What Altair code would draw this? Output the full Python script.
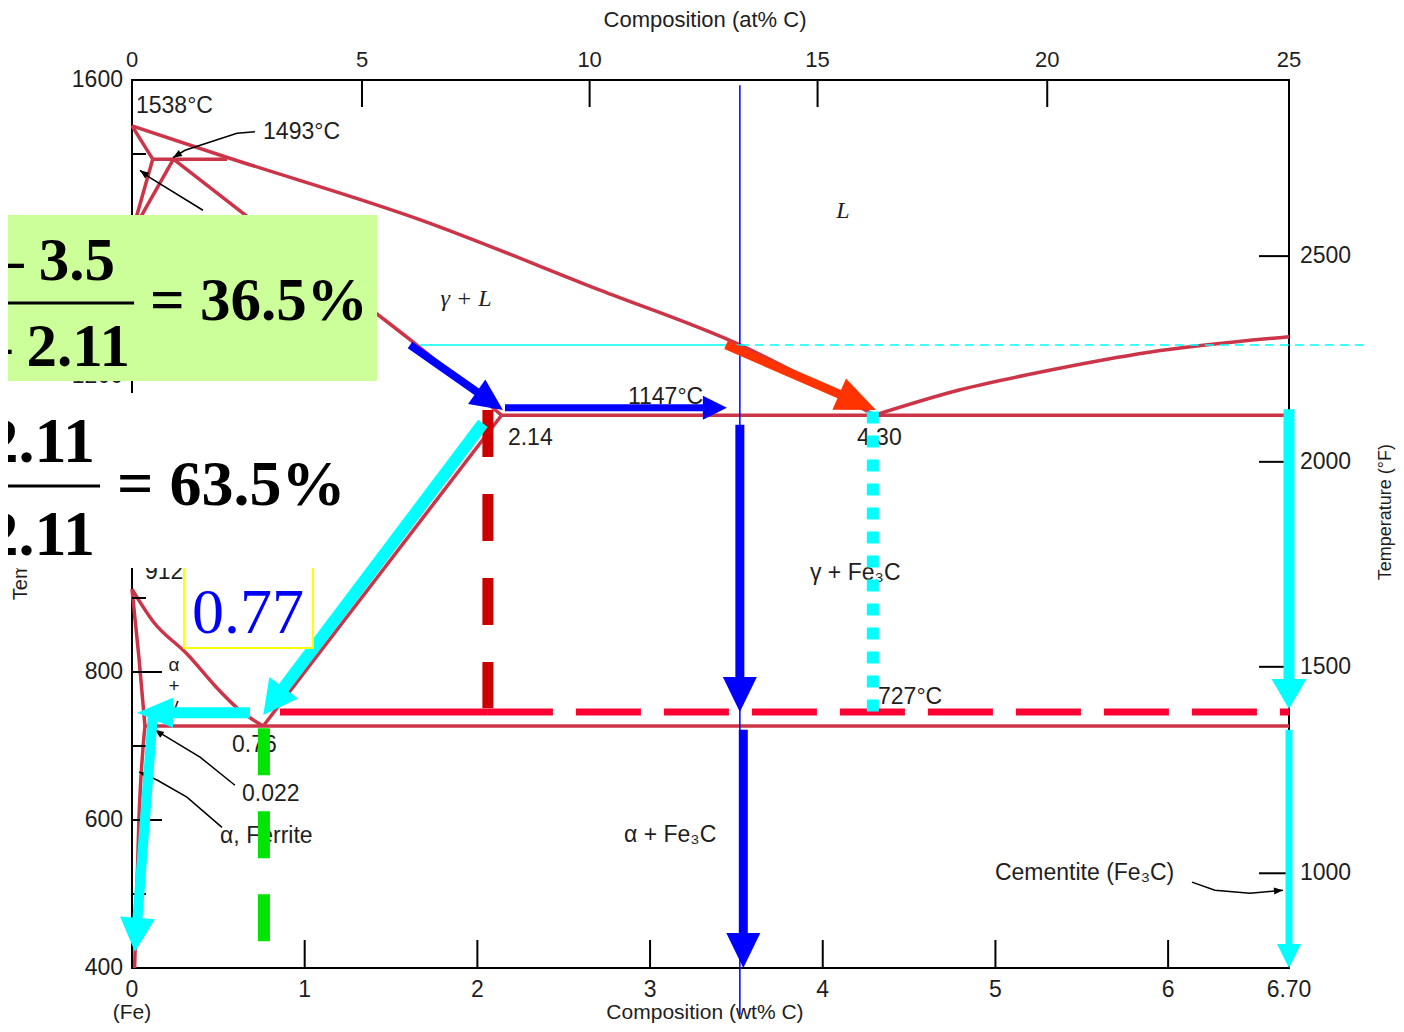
import math
import altair as alt
import pandas as pd

# ---------------- phase boundaries (wt% C, deg C) ----------------
liquidus_wt = [0, 0.53, 1.67, 2.71, 3.52, 4.30]
liquidus_T = [1538, 1497, 1411, 1316, 1242, 1147]
delta_solidus_wt = [0, 0.12]
delta_solidus_T = [1538, 1493]
peritectic_wt = [0.12, 0.55]
peritectic_T = [1493, 1493]
delta_left_wt = [0, 0.12]
delta_left_T = [1394, 1493]
delta_right_wt = [0, 0.24]
delta_right_T = [1394, 1493]
gamma_solidus_wt = [0.24, 0.67, 1.61, 2.14]
gamma_solidus_T = [1493, 1415, 1249, 1147]
eutectic_wt = [2.14, 6.70]
eutectic_T = [1147, 1147]
liquidus_r_wt = [4.30, 4.79, 5.32, 5.89, 6.70]
liquidus_r_T = [1147, 1181, 1208, 1232, 1253]
a3_wt = [0, 0.12, 0.32, 0.51, 0.63, 0.76]
a3_T = [912, 869, 824, 774, 747, 727]
acm_wt = [0.76, 2.14]
acm_T = [727, 1147]
alpha_gamma_wt = [0, 0.04, 0.075]
alpha_gamma_T = [912, 820, 727]
solvus_wt = [0.015, 0.04, 0.075]
solvus_T = [400, 600, 727]
eutectoid_wt = [0.075, 6.70]
eutectoid_T = [727, 727]

# ---------------- axes ----------------
wt_ticks = [0, 1, 2, 3, 4, 5, 6, 6.7]
wt_labels = ["0", "1", "2", "3", "4", "5", "6", "6.70"]
degC_ticks = [400, 600, 800, 1000, 1200, 1400, 1600]
degC_shown = [400, 600, 800, 1200, 1600]          # 1000 and 1400 sit under the boxes
degC_labels = ["400", "600", "800", "1200", "1600"]
degC_minor = [500, 700, 900, 1100, 1300, 1500]
at_labels = ["0", "5", "10", "15", "20", "25"]
at_pos_wt = [0, 1.332, 2.65, 3.97, 5.30, 6.70]
degF_labels = ["1000", "1500", "2000", "2500"]
degF_pos_T = [528, 807, 1084, 1362]

# ---------------- diagram labels ----------------
lab_text = ["1538°C", "1493°C", "1147°C", "2.14", "4.30", "727°C", "0.76", "0.022",
            "α, Ferrite", "912°C", "γ + Fe₃C", "α + Fe₃C", "Cementite (Fe₃C)"]
lab_wt = [0.023, 0.759, 2.872, 2.177, 4.198, 4.32, 0.579, 0.637,
          0.51, 0.075, 3.926, 2.849, 4.997]
lab_T = [1565, 1530, 1172, 1116, 1116, 766, 701, 635,
         578, 935, 934, 580, 528]
small_text = ["α", "+", "γ"]
small_wt = [0.243, 0.243, 0.243]
small_T = [809, 781, 755]
ital_text = ["L", "γ + L"]
ital_wt = [4.117, 1.934]
ital_T = [1423, 1304]

# leader lines (polyline ending at arrow tip)
ldr_1493_wt = [0.712, 0.608, 0.307, 0.237]
ldr_1493_T = [1530, 1528, 1505, 1495]
ldr_delta_wt = [0.411, 0.104, 0.046]
ldr_delta_T = [1424, 1468, 1478]
ldr_022_wt = [0.596, 0.394, 0.145, 0.133]
ldr_022_T = [647, 685, 720, 722]
ldr_fer_wt = [0.521, 0.318, 0.145, 0.041]
ldr_fer_T = [590, 631, 654, 665]
ldr_cem_wt = [6.138, 6.271, 6.474, 6.665]
ldr_cem_T = [516, 505, 501, 505]

# ---------------- lesson overlays ----------------
comp_wt = 3.52
comp_T = [1593, 336]
tie_T = 1242
tie_solid_wt = [1.668, 3.52]
tie_dash_wt = [3.52, 7.14]
darkred_wt = 2.061
darkred_T = [1154, 751]
reddash_T = 746
reddash_solid_wt = [0.857, 2.061]
reddash_wt = [2.061, 6.70]
cyandot_wt = 4.29
cyandot_T = [1152, 746]
green_wt = 0.764
green_T = [724, 431]

arrow_start_wt = [1.61, 2.16, 3.44, 3.52, 3.54, 6.70, 6.70, 2.032, 0.683, 0.122]
arrow_start_T = [1242, 1157, 1242, 1134, 722, 1155, 722, 1136, 745, 745]
arrow_tip_wt = [2.148, 3.445, 4.308, 3.52, 3.54, 6.70, 6.70, 0.76, 0.029, 0.017]
arrow_tip_T = [1154, 1157, 1154, 746, 400, 750, 400, 742, 745, 422]

# boxes
green_box_wt = [-0.72, 1.419]
green_box_T = [1417.6, 1193.2]
white_box_wt = [-0.72, 1.33]
white_box_T = [1177, 940.5]
yellow_box_wt = [0.301, 1.048]
yellow_box_T = [951, 832.4]

frac1_text = ["4.30 – 3.5", "4.30 – 2.11"]
frac1_wt = [-0.098, -0.012]
frac1_T = [1330, 1213.5]
frac1_bar_wt = [-0.72, 0.012]
frac1_bar_T = 1298.6
res1_text = "= 36.5%"
res1_wt = 0.104
res1_T = 1276
frac2_text = ["3.5 – 2.11", "4.30 – 2.11"]
frac2_wt = [-0.214, -0.214]
frac2_T = [1084, 958]
frac2_bar_wt = [-0.72, -0.185]
frac2_bar_T = 1051.4
res2_text = "= 63.5%"
res2_wt = -0.087
res2_T = 1025.7
eut_text = "0.77"
eut_wt = 0.347
eut_T = 852.7

# ---------------- styles ----------------
W, H = 1157, 888
KX = W / 6.7
KY = H / 1200.0
SANS = "Liberation Sans"
SERIF = "Liberation Serif"
INK = "#1e1e1e"
PHASE = "#CC3448"
BLUE = "#0000FF"
CYAN = "#00FFFF"
ORANGE = "#FF3300"
DARKRED = "#CC0000"
REDDASH = "#FF0033"
GREEN = "#00E600"

arrow_color = [BLUE, BLUE, ORANGE, BLUE, BLUE, CYAN, CYAN, CYAN, CYAN, CYAN]
arrow_shaft = [8, 7, 9, 9, 9, 11, 7, 12, 11, 10]
arrow_head_len = [32, 24, 40, 35, 35, 30, 24, 34, 36, 34]
arrow_head_wid = [30, 24, 34, 34, 34, 35, 24, 36, 30, 35]

XS = alt.Scale(domain=[0, 6.7], nice=False, zero=False)
YS = alt.Scale(domain=[400, 1600], nice=False, zero=False)


def X(f="x"):
    return alt.X(f"{f}:Q", scale=XS, axis=None)


def Y(f="y"):
    return alt.Y(f"{f}:Q", scale=YS, axis=None)


def head(sw, sT, tw, tT, L, Wd):
    dx = (tw - sw) * KX
    dy = -(tT - sT) * KY
    n = math.hypot(dx, dy)
    ux, uy = dx / n, dy / n
    back = L * 0.7
    ew = tw - ux * back / KX
    eT = tT + uy * back / KY
    ang = math.degrees(math.atan2(ux, -uy)) % 360
    r = Wd / (2.0 * L)
    shape = f"M0,0L{r:.3f},1L{-r:.3f},1Z"
    return ew, eT, ang, shape, 4.0 * L * L


def rules(rows, color, width, dash=None, cap="butt"):
    df = pd.DataFrame(rows, columns=["x", "y", "x2", "y2"])
    kw = dict(color=color, strokeWidth=width, strokeCap=cap, clip=False)
    if dash:
        kw["strokeDash"] = dash
    return alt.Chart(df).mark_rule(**kw).encode(
        x=X(), y=Y(), x2=alt.X2("x2"), y2=alt.Y2("y2"))


def texts(wt, T, labels, size, font=SANS, align="left", color=INK, style="normal",
          weight="normal", angle=None, baseline="middle"):
    df = pd.DataFrame({"x": wt, "y": T, "t": labels})
    kw = dict(align=align, baseline=baseline, font=font, fontSize=size, color=color,
              fontStyle=style, fontWeight=weight, clip=False)
    if angle is not None:
        kw["angle"] = angle
    return alt.Chart(df).mark_text(**kw).encode(x=X(), y=Y(), text="t:N")


def heads_layer(rows):
    df = pd.DataFrame(rows, columns=["x", "y", "angle", "shape", "size", "c"])
    return alt.Chart(df).mark_point(filled=True, opacity=1, strokeWidth=0, clip=False).encode(
        x=X(), y=Y(),
        angle=alt.Angle("angle:Q", scale=None),
        shape=alt.Shape("shape:N", scale=None),
        size=alt.Size("size:Q", scale=None),
        color=alt.Color("c:N", scale=None),
    )


layers = []

# ---- phase diagram lines ----
phase = [
    (liquidus_wt, liquidus_T), (delta_solidus_wt, delta_solidus_T),
    (peritectic_wt, peritectic_T), (delta_left_wt, delta_left_T),
    (delta_right_wt, delta_right_T), (gamma_solidus_wt, gamma_solidus_T),
    (eutectic_wt, eutectic_T), (liquidus_r_wt, liquidus_r_T), (a3_wt, a3_T),
    (acm_wt, acm_T), (alpha_gamma_wt, alpha_gamma_T), (solvus_wt, solvus_T),
    (eutectoid_wt, eutectoid_T),
]
prow = []
for k, (ws, ts) in enumerate(phase):
    for i, (w_, t_) in enumerate(zip(ws, ts)):
        prow.append({"line": k, "i": i, "x": w_, "y": t_})
layers.append(alt.Chart(pd.DataFrame(prow)).mark_line(
    color=PHASE, strokeWidth=3.5, clip=False, strokeJoin="round",
    interpolate="monotone").encode(
    x=X(), y=Y(), detail="line:N", order="i:Q"))

# ---- inward ticks ----
tk = []
for t in degC_ticks[1:-1]:
    tk.append((0, t, 30 / KX, t))
for t in degC_minor:
    tk.append((0, t, 14 / KX, t))
for w_ in wt_ticks[1:-1]:
    tk.append((w_, 400, w_, 400 + 28 / KY))
for w_ in at_pos_wt[1:-1]:
    tk.append((w_, 1600, w_, 1600 - 27 / KY))
for t in degF_pos_T:
    tk.append((6.7 - 30 / KX, t, 6.7, t))
layers.append(rules(tk, "black", 2))

# ---- axis texts ----
layers.append(texts(wt_ticks, [400 - 22 / KY] * len(wt_ticks), wt_labels, 23, align="center"))
layers.append(texts([-9 / KX] * len(degC_shown), degC_shown, degC_labels, 23, align="right"))
layers.append(texts(at_pos_wt, [1600 + 20 / KY] * 6, at_labels, 22, align="center"))
layers.append(texts([3.318], [1600 + 60 / KY], ["Composition (at% C)"], 22, align="center"))
layers.append(texts([6.7 + 11 / KX] * 4, degF_pos_T, degF_labels, 23))
layers.append(texts([7.26], [1016], ["Temperature (°F)"], 18, align="center", angle=270))
layers.append(texts([3.318, 0], [400 - 45 / KY] * 2, ["Composition (wt% C)", "(Fe)"], 21,
                    align="center"))
layers.append(texts([-0.642], [897], ["Temperature (°C)"], 20, align="left", angle=270))

# ---- diagram labels ----
layers.append(texts(lab_wt, lab_T, lab_text, 23))
layers.append(texts(small_wt, small_T, small_text, 19, align="center"))
layers.append(texts(ital_wt, ital_T, ital_text, 24, font=SERIF, align="center", style="italic"))

# ---- leader lines ----
lrows = []
lheads = []
for k, (ws, ts) in enumerate([(ldr_1493_wt, ldr_1493_T), (ldr_delta_wt, ldr_delta_T),
                              (ldr_022_wt, ldr_022_T), (ldr_fer_wt, ldr_fer_T),
                              (ldr_cem_wt, ldr_cem_T)]):
    for i, (w_, t_) in enumerate(zip(ws, ts)):
        lrows.append({"line": k, "i": i, "x": w_, "y": t_})
    ew, eT, ang, shp, sz = head(ws[-2], ts[-2], ws[-1], ts[-1], 9, 7)
    lheads.append((ws[-1], ts[-1], ang, shp, sz, "black"))
layers.append(alt.Chart(pd.DataFrame(lrows)).mark_line(
    color="black", strokeWidth=1.5, clip=False).encode(
    x=X(), y=Y(), detail="line:N", order="i:Q"))
layers.append(heads_layer(lheads))

# ---- lesson overlays ----
layers.append(rules([(comp_wt, comp_T[0], comp_wt, comp_T[1])], BLUE, 1.5))
layers.append(rules([(tie_solid_wt[0], tie_T, tie_solid_wt[1], tie_T)], CYAN, 1.5))
layers.append(rules([(tie_dash_wt[0], tie_T, tie_dash_wt[1], tie_T)], CYAN, 1.5, dash=[9, 6]))
layers.append(rules([(darkred_wt, darkred_T[0], darkred_wt, darkred_T[1])], DARKRED, 11, dash=[47, 37]))
layers.append(rules([(reddash_solid_wt[0], reddash_T, reddash_solid_wt[1], reddash_T)], REDDASH, 7))
layers.append(rules([(reddash_wt[0], reddash_T, reddash_wt[1], reddash_T)], REDDASH, 7, dash=[65, 23]))
layers.append(rules([(cyandot_wt, cyandot_T[0], cyandot_wt, cyandot_T[1])], CYAN, 12, dash=[12, 12]))
layers.append(rules([(green_wt, green_T[0], green_wt, green_T[1])], GREEN, 12, dash=[47, 36]))

srows = []
hrows = []
for i in range(len(arrow_start_wt)):
    ew, eT, ang, shp, sz = head(arrow_start_wt[i], arrow_start_T[i], arrow_tip_wt[i],
                                arrow_tip_T[i], arrow_head_len[i], arrow_head_wid[i])
    srows.append({"x": arrow_start_wt[i], "y": arrow_start_T[i], "x2": ew, "y2": eT,
                  "c": arrow_color[i], "w": arrow_shaft[i]})
    hrows.append((arrow_tip_wt[i], arrow_tip_T[i], ang, shp, sz, arrow_color[i]))
layers.append(alt.Chart(pd.DataFrame(srows)).mark_rule(strokeCap="butt", clip=False).encode(
    x=X(), y=Y(), x2=alt.X2("x2"), y2=alt.Y2("y2"),
    color=alt.Color("c:N", scale=None), strokeWidth=alt.StrokeWidth("w:Q", scale=None)))
layers.append(heads_layer(hrows))


# ---- boxes ----
def box(ws, ts, fill, stroke=None, sw=0):
    df = pd.DataFrame({"x": [ws[0]], "x2": [ws[1]], "y": [ts[0]], "y2": [ts[1]]})
    kw = dict(fill=fill, clip=False, strokeWidth=sw)
    if stroke:
        kw["stroke"] = stroke
    return alt.Chart(df).mark_rect(**kw).encode(x=X(), x2=alt.X2("x2"), y=Y(), y2=alt.Y2("y2"))


layers.append(box(yellow_box_wt, yellow_box_T, "white", "#FFFF00", 2))
layers.append(box(green_box_wt, green_box_T, "#CCFF99"))
layers.append(box(white_box_wt, white_box_T, "white"))

layers.append(texts(frac1_wt, frac1_T, frac1_text, 61, font=SERIF, align="right",
                    color="black", weight="bold", baseline="alphabetic"))
layers.append(texts([res1_wt], [res1_T], [res1_text], 61, font=SERIF, color="black",
                    weight="bold", baseline="alphabetic"))
layers.append(rules([(frac1_bar_wt[0], frac1_bar_T, frac1_bar_wt[1], frac1_bar_T)], "black", 3))
layers.append(texts(frac2_wt, frac2_T, frac2_text, 64, font=SERIF, align="right",
                    color="black", weight="bold", baseline="alphabetic"))
layers.append(texts([res2_wt], [res2_T], [res2_text], 64, font=SERIF, color="black",
                    weight="bold", baseline="alphabetic"))
layers.append(rules([(frac2_bar_wt[0], frac2_bar_T, frac2_bar_wt[1], frac2_bar_T)], "black", 3))
layers.append(texts([eut_wt], [eut_T], [eut_text], 64, font=SERIF, color=BLUE,
                    baseline="alphabetic"))

chart = alt.layer(*layers).properties(
    width=W, height=H,
    padding={"left": 124, "top": 72, "right": 107, "bottom": 56},
    autosize=alt.AutoSizeParams(type="none"),
    background="white",
).configure_view(stroke="black", strokeWidth=2)

chart.save("out.html", embed_options={"renderer": "svg", "actions": False})
